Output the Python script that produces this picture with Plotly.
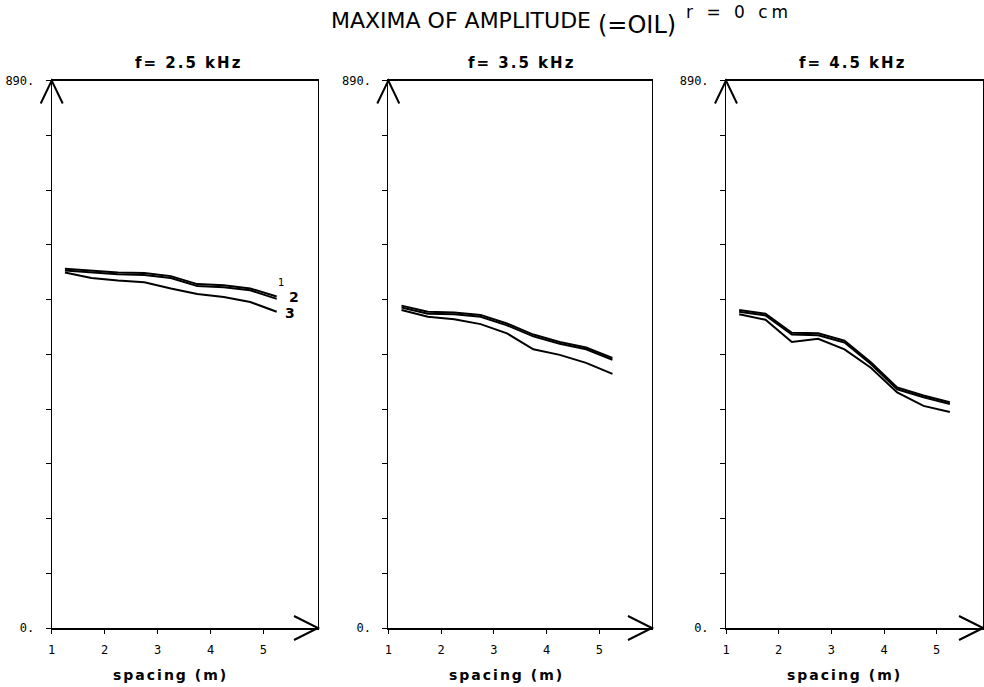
import plotly.graph_objects as go
from plotly.subplots import make_subplots

# source spacing (m) of the sampled maxima
spacing = [1.25, 1.75, 2.25, 2.75, 3.25, 3.75, 4.25, 4.75, 5.25]

# amplitude maxima, curves 1-3, for each frequency
amp_25_1 = [584, 581, 578, 577, 572, 559, 557, 552, 539]
amp_25_2 = [581, 578, 575, 574, 569, 556, 554, 549, 535]
amp_25_3 = [578, 569, 565, 562, 552, 543, 538, 530, 514]

amp_35_1 = [524, 514, 513, 509, 495, 477, 465, 456, 439]
amp_35_2 = [521, 511, 510, 506, 492, 474, 462, 453, 436]
amp_35_3 = [517, 506, 502, 494, 479, 453, 444, 431, 413]

amp_45_1 = [517, 511, 480, 479, 467, 432, 391, 378, 367]
amp_45_2 = [514, 508, 477, 476, 464, 429, 388, 375, 364]
amp_45_3 = [510, 501, 465, 470, 453, 423, 383, 361, 351]

panel_titles = ["f= 2.5 kHz", "f= 3.5 kHz", "f= 4.5 kHz"]
x_ticks = [1, 2, 3, 4, 5]
y_max = 890
y_ticks = list(range(0, 891, 89))
y_ticktext = ["0."] + [""] * 9 + ["890."]
x_ends = [6.03, 6.0, 5.88]

W, H = 984, 687
INK = "black"
MONO = "DejaVu Sans Mono"
SANS = "DejaVu Sans"


def px(xp):
    return xp / W


def py(yp):
    return 1 - yp / H


def spaced(text, gap):
    return f'<span style="letter-spacing:{gap}px">{text}</span>'


panels = [
    (amp_25_1, amp_25_2, amp_25_3),
    (amp_35_1, amp_35_2, amp_35_3),
    (amp_45_1, amp_45_2, amp_45_3),
]
x_domains = [[51.7 / W, 318 / W], [388.3 / W, 652 / W], [726 / W, 0.999]]
y_domain = [(H - 628) / H, (H - 80.5) / H]

fig = make_subplots(rows=1, cols=3)

for i, curves in enumerate(panels):
    for c in curves:
        fig.add_trace(
            go.Scatter(x=spacing, y=c, mode="lines",
                       line=dict(color=INK, width=2), showlegend=False,
                       hoverinfo="skip"),
            row=1, col=i + 1,
        )
    ax = "" if i == 0 else str(i + 1)
    fig.update_layout({
        f"xaxis{ax}": dict(
            domain=x_domains[i], range=[1, x_ends[i]], tickvals=x_ticks,
            ticks="outside", ticklen=4, tickcolor=INK, showgrid=False,
            zeroline=False, showline=True, linecolor=INK, linewidth=2,
            mirror=True, ticklabelstandoff=6, automargin=False,
            tickfont=dict(family=MONO, size=12, color=INK),
        ),
        f"yaxis{ax}": dict(
            domain=y_domain, range=[0, y_max], tickvals=y_ticks,
            ticktext=y_ticktext, ticks="outside", ticklen=5, tickcolor=INK,
            showgrid=False, zeroline=False, showline=True, linecolor=INK,
            linewidth=1, mirror=True, ticklabelstandoff=9, automargin=False,
            tickfont=dict(family=MONO, size=12, color=INK),
        ),
    })
    xd, yd = f"x{ax} domain", f"y{ax} domain"
    # open arrowhead on top of the amplitude axis
    fig.add_shape(type="path", xref=xd, yref=yd, xsizemode="pixel",
                  ysizemode="pixel", xanchor=0, yanchor=1,
                  path="M -11,-23 L 0,0 L 11,-23",
                  line=dict(color=INK, width=2))
    # open arrowhead at the end of the spacing axis
    fig.add_shape(type="path", xref=xd, yref=yd, xsizemode="pixel",
                  ysizemode="pixel", xanchor=1, yanchor=0,
                  path="M -24,12 L 0,0 L -24,-12",
                  line=dict(color=INK, width=2))
    # axis label
    fig.add_annotation(x=3.25, xref=f"x{ax}", y=py(675), yref="paper",
                       xanchor="center", yanchor="middle",
                       text="<b>" + spaced("spacing (m)", 2) + "</b>",
                       showarrow=False,
                       font=dict(family=SANS, size=14, color=INK))

# frequency titles above each panel
for xc, t in zip([188, 521, 852], panel_titles):
    fig.add_annotation(x=px(xc), y=py(63), xref="paper", yref="paper",
                       xanchor="center", yanchor="middle",
                       text="<b>" + spaced(t, 2) + "</b>", showarrow=False,
                       font=dict(family=SANS, size=15, color=INK))

# curve numbers on the 2.5 kHz panel
fig.add_annotation(x=5.33, y=562, xref="x", yref="y", text="1",
                   xanchor="center", yanchor="middle",
                   showarrow=False, font=dict(family=SANS, size=10, color=INK))
fig.add_annotation(x=5.57, y=538, xref="x", yref="y", text="<b>2</b>",
                   xanchor="center", yanchor="middle",
                   showarrow=False, font=dict(family=SANS, size=14, color=INK))
fig.add_annotation(x=5.5, y=512, xref="x", yref="y", text="<b>3</b>",
                   xanchor="center", yanchor="middle",
                   showarrow=False, font=dict(family=SANS, size=14, color=INK))

# figure heading
fig.add_annotation(x=px(329), y=py(21), xref="paper", yref="paper",
                   xanchor="left", yanchor="middle",
                   text="MAXIMA OF AMPLITUDE",
                   showarrow=False, font=dict(family=SANS, size=22, color=INK))
fig.add_annotation(x=px(596), y=py(25), xref="paper", yref="paper",
                   xanchor="left", yanchor="middle", text="(=OIL)",
                   showarrow=False, font=dict(family=SANS, size=24, color=INK))
fig.add_annotation(x=px(684), y=py(12), xref="paper", yref="paper",
                   xanchor="left", yanchor="middle",
                   text=spaced("r = 0 cm", 4),
                   showarrow=False, font=dict(family=SANS, size=17, color=INK))

fig.update_layout(
    width=W, height=H, margin=dict(l=0, r=0, t=0, b=0),
    paper_bgcolor="white", plot_bgcolor="white",
)

fig.write_html("out.html")
